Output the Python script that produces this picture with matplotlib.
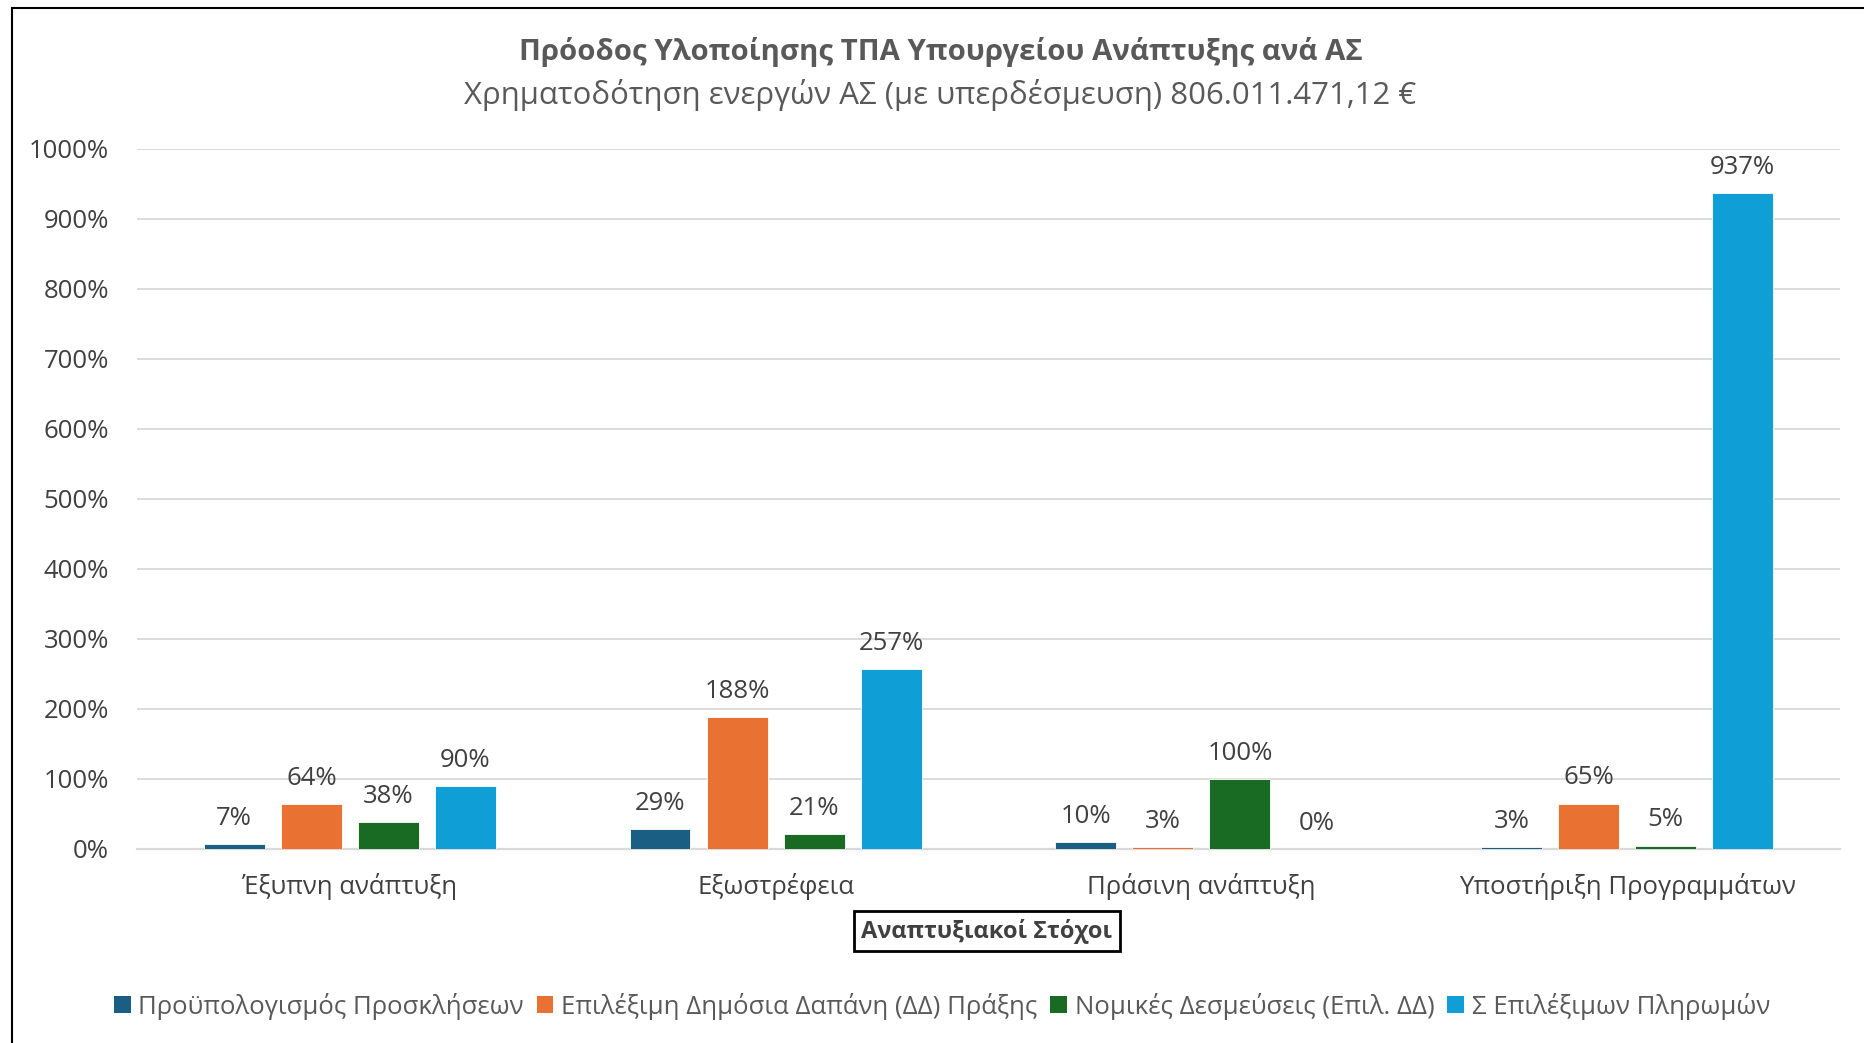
import matplotlib
matplotlib.use("Agg")
import matplotlib.pyplot as plt
from matplotlib.patches import Rectangle, Patch
import numpy as np

plt.rcParams['font.family'] = ['Open Sans', 'Noto Sans', 'DejaVu Sans']

categories = ["Έξυπνη ανάπτυξη", "Εξωστρέφεια", "Πράσινη ανάπτυξη", "Υποστήριξη Προγραμμάτων"]
series_names = ["Προϋπολογισμός Προσκλήσεων",
                "Επιλέξιμη Δημόσια Δαπάνη (ΔΔ) Πράξης",
                "Νομικές Δεσμεύσεις (Επιλ. ΔΔ)",
                "Σ Επιλέξιμων Πληρωμών"]
budget = [7, 29, 10, 3]
eligible = [64, 188, 3, 65]
legal = [38, 21, 100, 5]
payments = [90, 257, 0, 937]
colors = ["#1a5e83", "#e97132", "#196b24", "#0f9ed5"]
yticks = [0, 100, 200, 300, 400, 500, 600, 700, 800, 900, 1000]

W, H = 1865, 1043
fig = plt.figure(figsize=(W / 100, H / 100), dpi=100)
ax = fig.add_axes([137 / W, 1 - 849 / H, (1840 - 137) / W, (849 - 149) / H])

series = [budget, eligible, legal, payments]
x = np.arange(len(categories))
step = 0.181
width = 0.143
txt = "#404040"
fs = 18.5
for i, (vals, c) in enumerate(zip(series, colors)):
    xs = x + (i - 1.5) * step
    ax.bar(xs, vals, width=width, color=c, edgecolor="#ffffff", linewidth=0.6, zorder=3)
    for xi, v in zip(xs, vals):
        ax.annotate(f"{v}%", (xi, v), xytext=(0, 9.5), textcoords="offset points",
                    ha="center", va="bottom", fontsize=fs, color=txt)

ax.set_xlim(-0.5, 3.5)
ax.set_ylim(0, 1000)
ax.set_yticks(yticks)
ax.set_yticklabels([f"{t}%" for t in yticks], fontsize=fs, color=txt)
ax.set_xticks(x)
ax.set_xticklabels(categories, fontsize=fs, color=txt)
ax.tick_params(axis="both", length=0)
ax.tick_params(axis="y", pad=20)
ax.tick_params(axis="x", pad=17)
ax.grid(axis="y", color="#d9d9d9", linewidth=1.3, zorder=0)
for s in ["top", "right", "left"]:
    ax.spines[s].set_visible(False)
ax.spines["bottom"].set_color("#d9d9d9")
ax.spines["bottom"].set_linewidth(1.6)

cx = 0.5 + 8 / W
fig.text(cx, 1 - 52 / H, "Πρόοδος Υλοποίησης ΤΠΑ Υπουργείου Ανάπτυξης ανά ΑΣ",
         ha="center", va="center", fontsize=21.2, fontweight="bold", color="#595959")
fig.text(cx, 1 - 95 / H, "Χρηματοδότηση ενεργών ΑΣ (με υπερδέσμευση) 806.011.471,12 €",
         ha="center", va="center", fontsize=22.4, color="#595959")

fig.text(987 / W, 1 - 931 / H, "Αναπτυξιακοί Στόχοι", ha="center", va="center",
         fontsize=17, fontweight="bold", color="#404040",
         bbox=dict(boxstyle="square,pad=0.3", facecolor="white", edgecolor="black", linewidth=2))

handles = [Patch(facecolor=c, edgecolor="none") for c in colors]
fig.legend(handles, series_names, loc="center", bbox_to_anchor=(0.505, 1 - 1006 / H),
           ncol=4, frameon=False, fontsize=fs, labelcolor="#595959",
           handlelength=0.65, handleheight=0.65, handletextpad=0.3, columnspacing=0.5)

border = Rectangle((12 / W, -0.1), 1.2, 1.1 - 8 / H, transform=fig.transFigure,
                   fill=False, edgecolor="black", linewidth=1.5, clip_on=False)
fig.patches.append(border)

fig.savefig("out.png", dpi=100)
